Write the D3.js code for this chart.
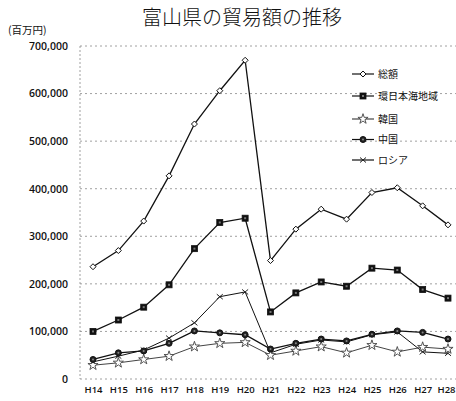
<!DOCTYPE html>
<html lang="ja">
<head>
<meta charset="utf-8">
<script src="https://d3js.org/d3.v7.min.js"></script>
<style>
  html, body { margin: 0; padding: 0; background: #fff; }
  svg { display: block; }
</style>
</head>
<body>
<svg id="chart" width="456" height="401"></svg>
<script>
// 年度（平成）
const years = ["H14","H15","H16","H17","H18","H19","H20","H21","H22","H23","H24","H25","H26","H27","H28"];

// 貿易額（百万円）
const total   = [236000, 270000, 332000, 427000, 536000, 606000, 670000, 249000, 315000, 357000, 336000, 392000, 402000, 364000, 324000];
const kanNihonkai = [100000, 124000, 151000, 198000, 274000, 329000, 338000, 141000, 181000, 204000, 195000, 233000, 229000, 188000, 170000];
const korea   = [29000, 34000, 41000, 48000, 68000, 75000, 77000, 50000, 59000, 68000, 55000, 71000, 57000, 67000, 63000];
const china   = [41000, 55000, 59000, 75000, 101000, 97000, 93000, 63000, 75000, 84000, 80000, 94000, 101000, 98000, 84000];
const russia  = [36000, 48000, 61000, 86000, 118000, 173000, 183000, 55000, 73000, 82000, 78000, 93000, 99000, 57000, 54000];

const yTicks = [0, 100000, 200000, 300000, 400000, 500000, 600000, 700000];

const seriesNames = ["総額", "環日本海地域", "韓国", "中国", "ロシア"];
const seriesValues = [total, kanNihonkai, korea, china, russia];
const markerKinds = ["diamond", "square", "star", "circle", "cross"];

const svg = d3.select("#chart");

const x = d3.scalePoint().domain(years).range([93, 448]);
const y = d3.scaleLinear().domain([0, 700000]).range([379, 46]);

// タイトル
svg.append("text")
  .attr("x", 242).attr("y", 25)
  .attr("text-anchor", "middle")
  .style("font-family", "'Noto Sans CJK JP', sans-serif")
  .style("font-size", "20px")
  .style("font-weight", "300")
  .style("fill", "#111")
  .text("富山県の貿易額の推移");

// 単位
svg.append("text")
  .attr("x", 8).attr("y", 34)
  .style("font-family", "'Noto Sans CJK JP', sans-serif")
  .style("font-size", "10.5px")
  .style("fill", "#111")
  .text("(百万円)");

// 目盛線（点線）
svg.append("g")
  .selectAll("line")
  .data(yTicks)
  .join("line")
  .attr("x1", 80).attr("x2", 456)
  .attr("y1", d => y(d)).attr("y2", d => y(d))
  .attr("stroke", "#888")
  .attr("stroke-width", 0.8)
  .attr("stroke-dasharray", "2,3");

// 縦軸（点線）
svg.append("line")
  .attr("x1", 80).attr("x2", 80)
  .attr("y1", y(700000)).attr("y2", y(0))
  .attr("stroke", "#888")
  .attr("stroke-width", 0.8)
  .attr("stroke-dasharray", "2,2");

// Y軸ラベル
const yAxis = d3.axisLeft(y)
  .tickValues(yTicks)
  .tickFormat(d3.format(","))
  .tickSize(0)
  .tickPadding(0);
const gy = svg.append("g").attr("transform", "translate(68,0)").call(yAxis);
gy.select(".domain").remove();
gy.selectAll("text")
  .style("font-family", "'Open Sans', sans-serif")
  .style("font-size", "10.5px")
  .style("font-weight", "600")
  .style("fill", "#111");

// X軸ラベル（右端のラベルは枠内に収める）
const xAxis = d3.axisBottom(x).tickSize(0).tickPadding(0);
const gx = svg.append("g").attr("transform", "translate(0,386)").call(xAxis);
gx.select(".domain").remove();
gx.selectAll("text")
  .style("font-family", "'Open Sans', sans-serif")
  .style("font-size", "9.5px")
  .style("font-weight", "600")
  .style("fill", "#111")
  .attr("dx", (d, i) => i === years.length - 1 ? -2 : 0);

// マーカー描画
function drawMarker(g, kind, cx, cy) {
  if (kind === "diamond") {
    g.append("path")
      .attr("d", `M${cx},${cy-3}L${cx+3},${cy}L${cx},${cy+3}L${cx-3},${cy}Z`)
      .attr("fill", "#fff").attr("stroke", "#111").attr("stroke-width", 1);
  } else if (kind === "square") {
    g.append("rect")
      .attr("x", cx - 3).attr("y", cy - 3)
      .attr("width", 6).attr("height", 6)
      .attr("fill", "#111").attr("stroke", "#111").attr("stroke-width", 0.8);
    g.append("rect")
      .attr("x", cx - 1).attr("y", cy - 1)
      .attr("width", 2).attr("height", 2)
      .attr("fill", "#777");
  } else if (kind === "circle") {
    g.append("circle")
      .attr("cx", cx).attr("cy", cy).attr("r", 3)
      .attr("fill", "#222").attr("stroke", "#111").attr("stroke-width", 1);
    g.append("circle")
      .attr("cx", cx).attr("cy", cy).attr("r", 1)
      .attr("fill", "#888");
  } else if (kind === "star") {
    const star = d3.symbol().type(d3.symbolStar).size(32);
    g.append("path")
      .attr("d", star())
      .attr("transform", `translate(${cx},${cy})`)
      .attr("fill", "#fff").attr("stroke", "#444").attr("stroke-width", 0.9);
  } else if (kind === "cross") {
    g.append("path")
      .attr("d", `M${cx-3},${cy-2.5}L${cx+3},${cy+2.5}M${cx-3},${cy+2.5}L${cx+3},${cy-2.5}`)
      .attr("stroke", "#222").attr("stroke-width", 1).attr("fill", "none");
  }
}

const line = d3.line()
  .x((d, i) => x(years[i]))
  .y(d => y(d));

// 系列（ロシア、韓国、中国、環日本海、総額の順に重ねる）
const drawOrder = [4, 2, 3, 1, 0];
drawOrder.forEach(si => {
  const vals = seriesValues[si];
  const g = svg.append("g");
  g.append("path")
    .datum(vals)
    .attr("d", line)
    .attr("fill", "none")
    .attr("stroke", si === 2 ? "#444" : "#111")
    .attr("stroke-width", si === 2 || si === 4 ? 1 : 1.3);
  vals.forEach((v, i) => drawMarker(g, markerKinds[si], x(years[i]), y(v)));
});

// 凡例
const legendY = [74, 96, 119, 139.5, 160];
seriesNames.forEach((name, si) => {
  const g = svg.append("g");
  const ly = legendY[si];
  g.append("line")
    .attr("x1", 352).attr("x2", 374)
    .attr("y1", ly).attr("y2", ly)
    .attr("stroke", si === 2 ? "#444" : "#111")
    .attr("stroke-width", 1.2);
  drawMarker(g, markerKinds[si], 363, ly);
  g.append("text")
    .attr("x", 378).attr("y", ly + 3.5)
    .style("font-family", "'Noto Sans CJK JP', sans-serif")
    .style("font-size", "10px")
    .style("fill", "#111")
    .text(name);
});
</script>
</body>
</html>
